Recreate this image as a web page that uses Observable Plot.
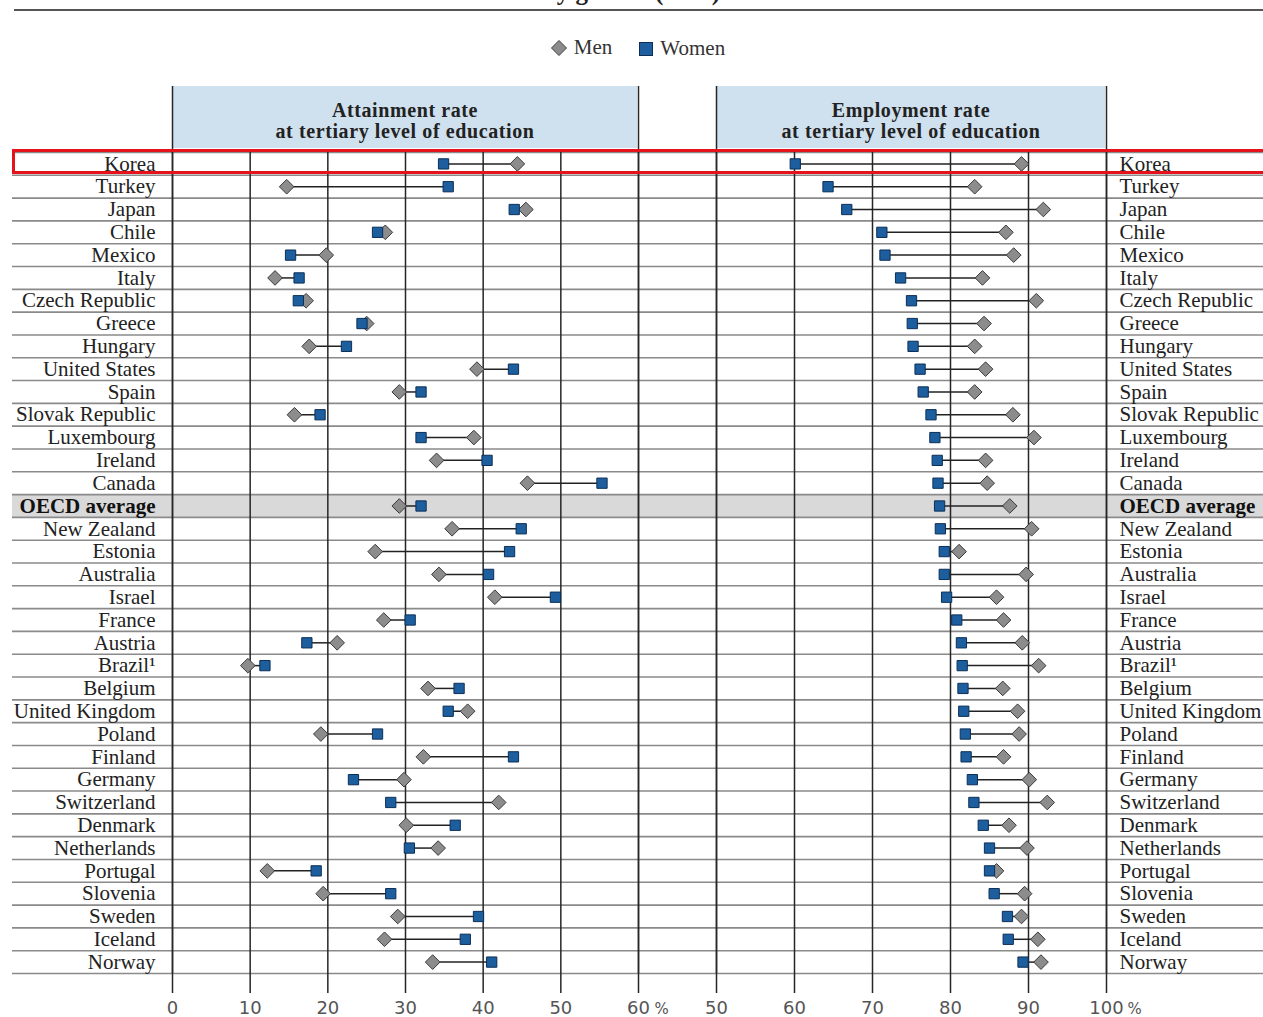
<!DOCTYPE html>
<html>
<head>
<meta charset="utf-8">
<script src="https://cdn.jsdelivr.net/npm/d3@7"></script>
<script src="https://cdn.jsdelivr.net/npm/@observablehq/plot@0.6"></script>
<style>
  html, body { margin: 0; padding: 0; background: #fff; overflow: hidden; }
  #wrap { position: relative; width: 1263px; height: 1017px; overflow: hidden; font-family: "Liberation Serif", serif; color: #222; }
  .abs { position: absolute; }
  .hdr { background: #cfe0ee; text-align: center; font-weight: bold; font-size: 20px; line-height: 21px; letter-spacing: 0.6px; box-sizing: border-box; padding-top: 14px; color: #222; }
  #legend { top: 35px; left: 6px; width: 1263px; text-align: center; font-size: 21px; color: #333; }
  #legend span { display: inline-flex; align-items: center; margin: 0 13px; }
  #legend svg { margin-right: 6px; }
</style>
</head>
<body>
<div id="wrap">
  <div class="abs" id="title" style="top:-21px;left:0;width:1263px;text-align:center;font-weight:bold;font-size:25px;line-height:25px;">by gender (2011)</div>
  <div class="abs" style="top:9px;left:14px;width:1249px;height:2px;background:#555;"></div>
  <div class="abs" id="legend"></div>
  <div class="abs hdr" id="h1"></div>
  <div class="abs hdr" id="h2"></div>
  <div class="abs" id="p1" style="top:80px;left:0;"></div>
  <div class="abs" id="p2" style="top:80px;left:660px;"></div>
  <div class="abs" style="left:12px;top:149px;width:1260px;height:25px;border:3px solid #e5141c;box-sizing:border-box;"></div>
</div>
<script>
// ---------- data ----------
const countries = ["Korea","Turkey","Japan","Chile","Mexico","Italy","Czech Republic","Greece","Hungary","United States","Spain","Slovak Republic","Luxembourg","Ireland","Canada","OECD average","New Zealand","Estonia","Australia","Israel","France","Austria","Brazil\u00b9","Belgium","United Kingdom","Poland","Finland","Germany","Switzerland","Denmark","Netherlands","Portugal","Slovenia","Sweden","Iceland","Norway"];
const attainMen   = [44.4,14.7,45.5,27.4,19.8,13.2,17.2,25.0,17.6,39.2,29.2,15.7,38.8,34.0,45.7,29.2,36.0,26.1,34.3,41.5,27.2,21.2,9.7,32.9,38.0,19.1,32.3,29.8,42.0,30.1,34.2,12.2,19.4,29.0,27.3,33.5];
const attainWomen = [34.9,35.5,44.0,26.4,15.2,16.3,16.2,24.4,22.4,43.9,32.0,19.0,32.0,40.5,55.3,32.0,44.9,43.4,40.7,49.3,30.6,17.3,11.9,36.9,35.5,26.4,43.9,23.3,28.1,36.4,30.5,18.5,28.1,39.4,37.7,41.1];
const employMen   = [89.1,83.1,91.9,87.1,88.1,84.1,91.0,84.3,83.1,84.5,83.1,88.0,90.7,84.5,84.7,87.6,90.4,81.1,89.7,85.9,86.8,89.2,91.3,86.7,88.6,88.8,86.8,90.1,92.4,87.5,89.8,85.9,89.5,89.1,91.2,91.6];
const employWomen = [60.1,64.3,66.7,71.2,71.6,73.6,75.0,75.1,75.2,76.1,76.5,77.5,78.0,78.3,78.4,78.6,78.7,79.2,79.2,79.5,80.8,81.4,81.5,81.6,81.7,81.9,82.0,82.8,83.0,84.2,85.0,85.0,85.6,87.3,87.4,89.3];
const attainTicks = [0,10,20,30,40,50,60];
const employTicks = [50,60,70,80,90,100];
const seriesNames = ["Men","Women"];
const panelTitles = [["Attainment rate","at tertiary level of education"],["Employment rate","at tertiary level of education"]];
const highlight = "OECD average";

const rows = countries.map((c,i)=>({country:c, am:attainMen[i], aw:attainWomen[i], em:employMen[i], ew:employWomen[i]}));

// ---------- style ----------
const MEN_FILL = "#8c8c8c", MEN_STROKE = "#3a3a3a";
const WOMEN_FILL = "#1c5e9e", WOMEN_STROKE = "#0d2f56";
const ROW_LINE = "#8a8a8a", GRID = "#262626", BAND = "#d9d9d9";
const H = 937, MT = 72, MB = 44;
const step = (H - MT - MB) / countries.length;

function panel({men, women, domain, ticks, width, ml, mr, side, extL, extR, pct, pctDx}) {
  const labelOpts = side === "left"
    ? {frameAnchor: "left", dx: -17, textAnchor: "end"}
    : {frameAnchor: "right", dx: 13, textAnchor: "start"};
  return Plot.plot({
    width, height: H, marginLeft: ml, marginRight: mr, marginTop: MT, marginBottom: MB,
    style: {fontFamily: "DejaVu Sans", fontSize: "18px", color: "#555", background: "transparent", overflow: "visible"},
    x: {domain, axis: null},
    y: {domain: countries, padding: 0, round: false, axis: null},
    marks: [
      Plot.cell(rows.filter(d => d.country === highlight), {y: "country", fill: BAND, insetLeft: -extL, insetRight: -extR}),
      Plot.ruleY(rows, {y: "country", dy: step/2, stroke: ROW_LINE, strokeWidth: 1.6, insetLeft: -extL, insetRight: -extR}),
      Plot.ruleY(rows.slice(0,1), {y: "country", dy: -step/2, stroke: ROW_LINE, strokeWidth: 1.6, insetLeft: -extL, insetRight: -extR}),
      Plot.ruleX(ticks, {stroke: GRID, strokeWidth: 1.5, insetBottom: -20}),
      Plot.ruleX([domain[0], domain[1]], {stroke: GRID, strokeWidth: 1.5, insetTop: -66}),
      Plot.axisX({ticks, tickSize: 0, tickPadding: 28, fontSize: 18}),
      Plot.text([pct], {x: domain[1], frameAnchor: "bottom", dy: 40, dx: pctDx, text: d => d, fontSize: 15, fill: "#555", fontFamily: "DejaVu Sans"}),
      Plot.text(rows.filter(d => d.country !== highlight), {y: "country", text: "country", ...labelOpts, fontFamily: "Liberation Serif", fontSize: 21, fill: "#222"}),
      Plot.text(rows.filter(d => d.country === highlight), {y: "country", text: "country", ...labelOpts, fontFamily: "Liberation Serif", fontSize: 21, fontWeight: "bold", fill: "#111"}),
      Plot.link(rows, {x1: men, x2: women, y1: "country", y2: "country", stroke: "#222", strokeWidth: 1.5}),
      Plot.dot(rows, {x: men, y: "country", symbol: "diamond2", r: 6.6, fill: MEN_FILL, stroke: MEN_STROKE, strokeWidth: 1}),
      Plot.dot(rows, {x: women, y: "country", symbol: "square", r: 5.8, fill: WOMEN_FILL, stroke: WOMEN_STROKE, strokeWidth: 1})
    ]
  });
}

document.getElementById("p1").appendChild(panel({men: "am", women: "aw", domain: [0,60], ticks: attainTicks, width: 660, ml: 172, mr: 22, side: "left", extL: 160, extR: 22, pct: "%", pctDx: 23}));
document.getElementById("p2").appendChild(panel({men: "em", women: "ew", domain: [50,100], ticks: employTicks, width: 603, ml: 56, mr: 157, side: "right", extL: 56, extR: 157, pct: "%", pctDx: 28}));

// headers
const h1 = document.getElementById("h1"), h2 = document.getElementById("h2");
Object.assign(h1.style, {left: "173px", top: "86px", width: "464px", height: "62px"});
Object.assign(h2.style, {left: "717px", top: "86px", width: "388px", height: "62px"});
h1.innerHTML = panelTitles[0].map(t => `<div>${t}</div>`).join("");
h2.innerHTML = panelTitles[1].map(t => `<div>${t}</div>`).join("");

// legend
const lg = document.getElementById("legend");
lg.innerHTML =
  `<span><svg width="18" height="18" viewBox="-9 -9 18 18"><path d="M0,-7.5L7.5,0L0,7.5L-7.5,0Z" fill="${MEN_FILL}" stroke="${MEN_STROKE}"/></svg>${seriesNames[0]}</span>` +
  `<span><svg width="16" height="16" viewBox="-8 -8 16 16"><rect x="-6.5" y="-6.5" width="13" height="13" fill="${WOMEN_FILL}" stroke="${WOMEN_STROKE}"/></svg>${seriesNames[1]}</span>`;
</script>
</body>
</html>
